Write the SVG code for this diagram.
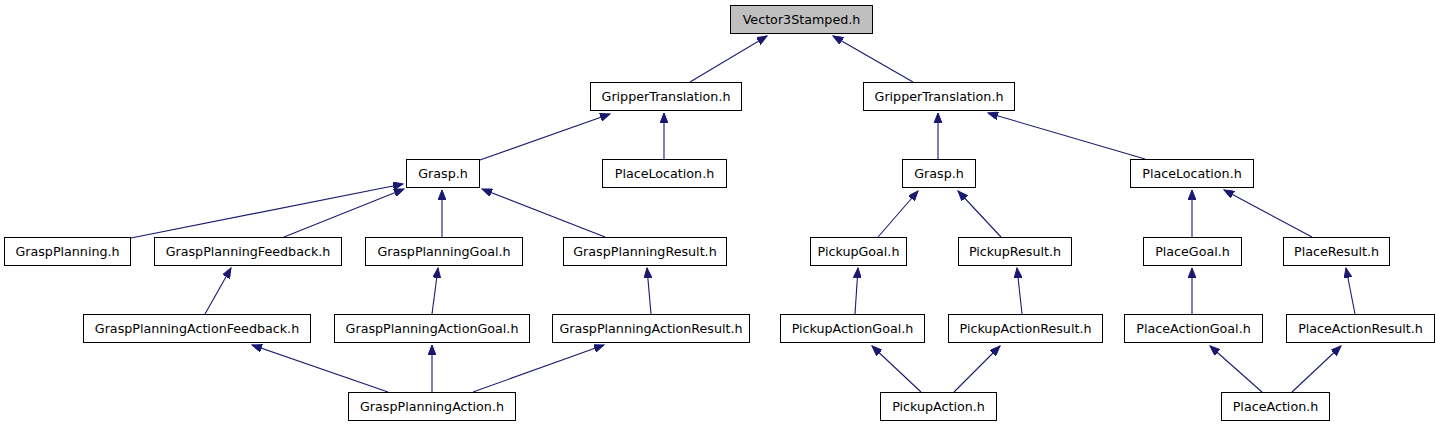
<svg xmlns="http://www.w3.org/2000/svg" width="1436" height="427" viewBox="0 0 1436 427">
<style>
.n rect{fill:#ffffff;stroke:#000000;stroke-width:1}
.n text{font-family:"DejaVu Sans",sans-serif;font-size:12.7px;text-anchor:middle;fill:#000000}
#v3s rect{fill:#bfbfbf}
.e line{stroke:#191970;stroke-width:1.1;marker-end:url(#ah)}
</style>
<defs>
<marker id="ah" markerUnits="userSpaceOnUse" markerWidth="11" markerHeight="8" refX="10" refY="4" orient="auto">
<path d="M0,0 L10,4 L0,8 z" fill="#191970" stroke="#191970" stroke-width="1"/>
</marker>
</defs>
<rect width="1436" height="427" fill="#ffffff"/>
<g id="edges" class="e">
<line x1="690" y1="82" x2="767" y2="36"/>
<line x1="913" y1="82" x2="833" y2="36"/>
<line x1="480" y1="160" x2="610" y2="114"/>
<line x1="664" y1="159" x2="664" y2="113"/>
<line x1="938" y1="159" x2="938" y2="113"/>
<line x1="1145" y1="159" x2="988" y2="113"/>
<line x1="131" y1="238" x2="403" y2="184"/>
<line x1="284" y1="237" x2="404" y2="189"/>
<line x1="442" y1="237" x2="442" y2="190"/>
<line x1="605" y1="237" x2="482" y2="189"/>
<line x1="878" y1="237" x2="918" y2="191"/>
<line x1="1001" y1="237" x2="958" y2="191"/>
<line x1="1192" y1="237" x2="1192" y2="190"/>
<line x1="1312" y1="237" x2="1224" y2="190"/>
<line x1="205" y1="314" x2="231" y2="268"/>
<line x1="432" y1="314" x2="438" y2="268"/>
<line x1="651" y1="314" x2="647" y2="268"/>
<line x1="855" y1="314" x2="858" y2="268"/>
<line x1="1022" y1="314" x2="1017" y2="268"/>
<line x1="1192" y1="314" x2="1192" y2="268"/>
<line x1="1355" y1="314" x2="1346" y2="268"/>
<line x1="388" y1="392" x2="252" y2="345"/>
<line x1="432" y1="392" x2="432" y2="345"/>
<line x1="473" y1="392" x2="604" y2="345"/>
<line x1="921" y1="392" x2="872" y2="346"/>
<line x1="954" y1="392" x2="1000" y2="346"/>
<line x1="1262" y1="392" x2="1210" y2="346"/>
<line x1="1292" y1="392" x2="1341" y2="346"/>
</g>
<g id="v3s" class="n"><rect x="730.5" y="5.5" width="142" height="28"/><text x="801.5" y="24">Vector3Stamped.h</text></g>
<g id="gt1" class="n"><rect x="590.5" y="82.5" width="151" height="28"/><text x="666" y="101">GripperTranslation.h</text></g>
<g id="gt2" class="n"><rect x="863.5" y="82.5" width="151" height="28"/><text x="939" y="101">GripperTranslation.h</text></g>
<g id="grasp1" class="n"><rect x="406.5" y="159.5" width="73" height="28"/><text x="443" y="178">Grasp.h</text></g>
<g id="pl1" class="n"><rect x="602.5" y="159.5" width="124" height="28"/><text x="664.5" y="178">PlaceLocation.h</text></g>
<g id="grasp2" class="n"><rect x="902.5" y="159.5" width="73" height="28"/><text x="939" y="178">Grasp.h</text></g>
<g id="pl2" class="n"><rect x="1130.5" y="159.5" width="123" height="28"/><text x="1192" y="178">PlaceLocation.h</text></g>
<g id="gp" class="n"><rect x="4.5" y="237.5" width="126" height="28"/><text x="67.5" y="256">GraspPlanning.h</text></g>
<g id="gpf" class="n"><rect x="154.5" y="237.5" width="187" height="28"/><text x="248" y="256">GraspPlanningFeedback.h</text></g>
<g id="gpg" class="n"><rect x="365.5" y="237.5" width="157" height="28"/><text x="444" y="256">GraspPlanningGoal.h</text></g>
<g id="gpr" class="n"><rect x="563.5" y="237.5" width="163" height="28"/><text x="645" y="256">GraspPlanningResult.h</text></g>
<g id="pg" class="n"><rect x="810.5" y="237.5" width="96" height="28"/><text x="858.5" y="256">PickupGoal.h</text></g>
<g id="pr" class="n"><rect x="958.5" y="237.5" width="113" height="28"/><text x="1015" y="256">PickupResult.h</text></g>
<g id="plg" class="n"><rect x="1143.5" y="237.5" width="98" height="28"/><text x="1192.5" y="256">PlaceGoal.h</text></g>
<g id="plr" class="n"><rect x="1283.5" y="237.5" width="106" height="28"/><text x="1336.5" y="256">PlaceResult.h</text></g>
<g id="gpaf" class="n"><rect x="83.5" y="314.5" width="227" height="28"/><text x="197" y="333">GraspPlanningActionFeedback.h</text></g>
<g id="gpag" class="n"><rect x="334.5" y="314.5" width="195" height="28"/><text x="432" y="333">GraspPlanningActionGoal.h</text></g>
<g id="gpar" class="n"><rect x="552.5" y="314.5" width="197" height="28"/><text x="651" y="333">GraspPlanningActionResult.h</text></g>
<g id="pag" class="n"><rect x="780.5" y="314.5" width="144" height="28"/><text x="852.5" y="333">PickupActionGoal.h</text></g>
<g id="par" class="n"><rect x="948.5" y="314.5" width="154" height="28"/><text x="1025.5" y="333">PickupActionResult.h</text></g>
<g id="plag" class="n"><rect x="1124.5" y="314.5" width="138" height="28"/><text x="1193.5" y="333">PlaceActionGoal.h</text></g>
<g id="plar" class="n"><rect x="1286.5" y="314.5" width="148" height="28"/><text x="1360.5" y="333">PlaceActionResult.h</text></g>
<g id="gpa" class="n"><rect x="348.5" y="392.5" width="167" height="28"/><text x="432" y="411">GraspPlanningAction.h</text></g>
<g id="pa" class="n"><rect x="880.5" y="392.5" width="116" height="28"/><text x="938.5" y="411">PickupAction.h</text></g>
<g id="pla" class="n"><rect x="1221.5" y="392.5" width="108" height="28"/><text x="1275.5" y="411">PlaceAction.h</text></g>
</svg>
